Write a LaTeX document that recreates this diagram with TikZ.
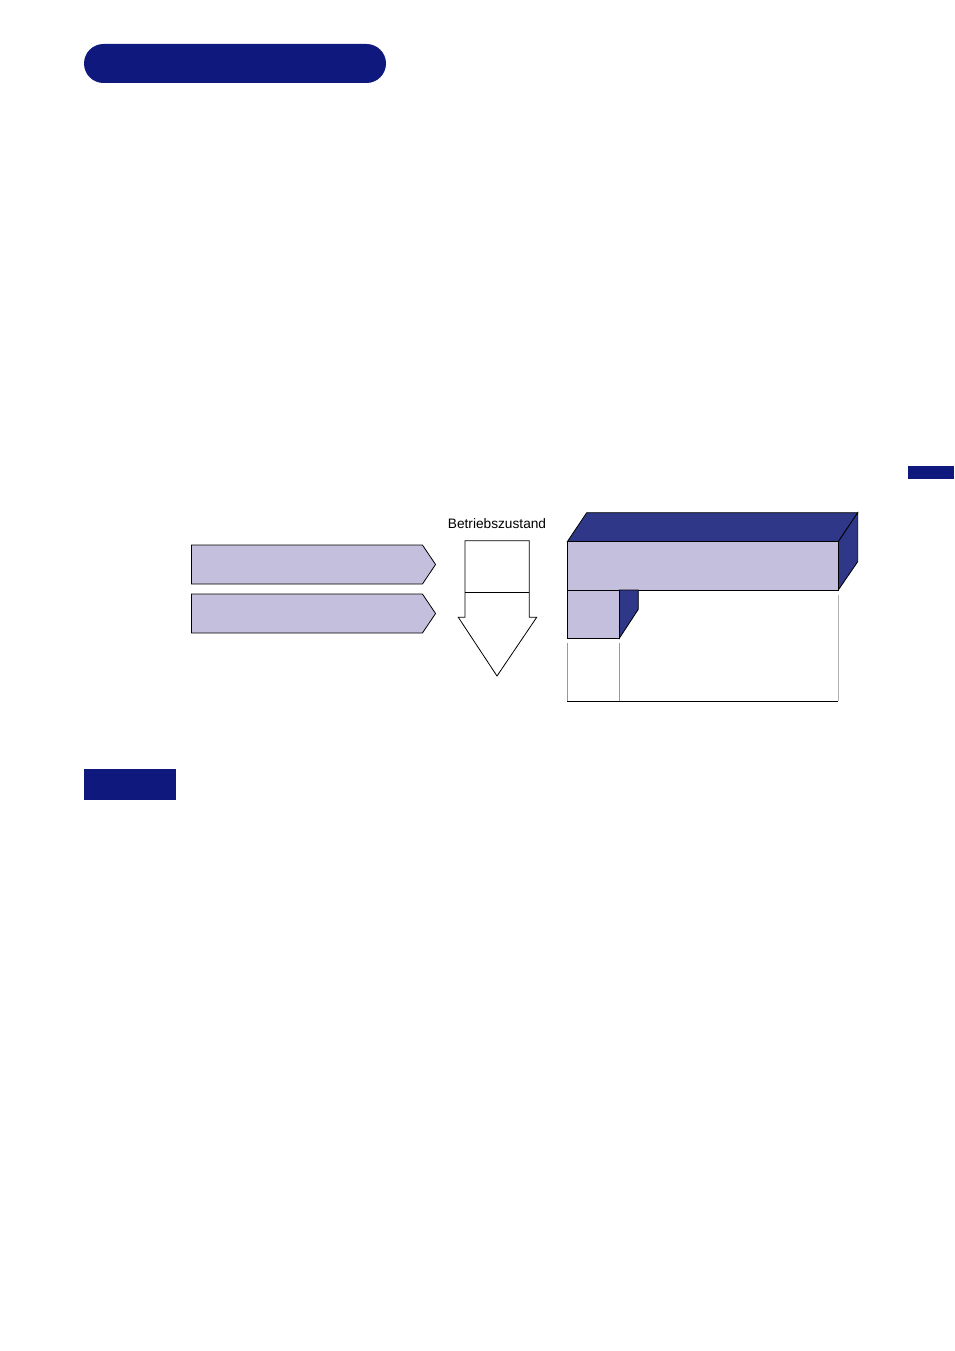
\documentclass[tikz,border=0pt]{standalone}
\usepackage{fontspec}
\setmainfont{Liberation Sans}
\usetikzlibrary{shapes.symbols}
\definecolor{navy}{RGB}{15,25,125}
\definecolor{lila}{RGB}{196,191,221}
\definecolor{tiefe}{RGB}{46,55,136}

\begin{document}
\begin{tikzpicture}[x=1pt,y=-1pt,line width=0.8pt,
			pfeil/.style={signal,signal to=east,signal pointer angle=112,draw,fill=lila,
				minimum width=244pt,minimum height=39pt,inner sep=0pt,outer sep=0pt},
			balken/.style={fill=navy,draw=none}]
			\useasboundingbox (0,0) rectangle (954,1351);
			% Kopfzeile und Randmarken
			\node[balken,rounded corners=19.5pt,minimum width=302pt,minimum height=39pt] (titel) at (235,63.5) {};
			\node[balken,minimum width=92pt,minimum height=31pt] (hinweis) at (130,784.5) {};
			\node[balken,minimum width=46pt,minimum height=13pt] (rand) at (931,472.5) {};
			% Signale links
			\node[pfeil] (sig1) at (307,564.5) {};
			\node[pfeil] (sig2) at (307,613.5) {};
			% Pfeil nach unten
			\node[font=\fontsize{13.7}{16}\selectfont,inner sep=0pt] (zustand) at (497,524) {Betriebszustand};
			\draw[fill=white] (465,540.7) -- (529.3,540.7) -- (529.3,617.3) -- (536.7,617.3)
				-- (497,676) -- (458.3,617.3) -- (465,617.3) -- cycle;
			\draw (465,592.7) -- (529.3,592.7);
			% Block rechts
			\draw[gray!80] (567.3,643) -- (567.3,701);
			\draw[gray!80] (619.3,643) -- (619.3,701);
			\draw[gray!60] (838.3,595) -- (838.3,701);
			\draw (567.3,701) -- (838.3,701);
			\draw[fill=tiefe] (567.3,541.7) -- (586.7,512.7) -- (857.7,512.7) -- (838.3,541.7) -- cycle;
			\draw[fill=tiefe] (838.3,541.7) -- (857.7,512.7) -- (857.7,561.7) -- (838.3,590) -- cycle;
			\draw[fill=lila] (567.3,541.7) rectangle (838.3,590);
			\draw[fill=tiefe] (619.3,590) -- (638.3,590) -- (638.3,609.3) -- (619.3,638.3) -- cycle;
			\draw[fill=lila] (567.3,590) rectangle (619.3,638.3);
		\end{tikzpicture}
\end{document}
